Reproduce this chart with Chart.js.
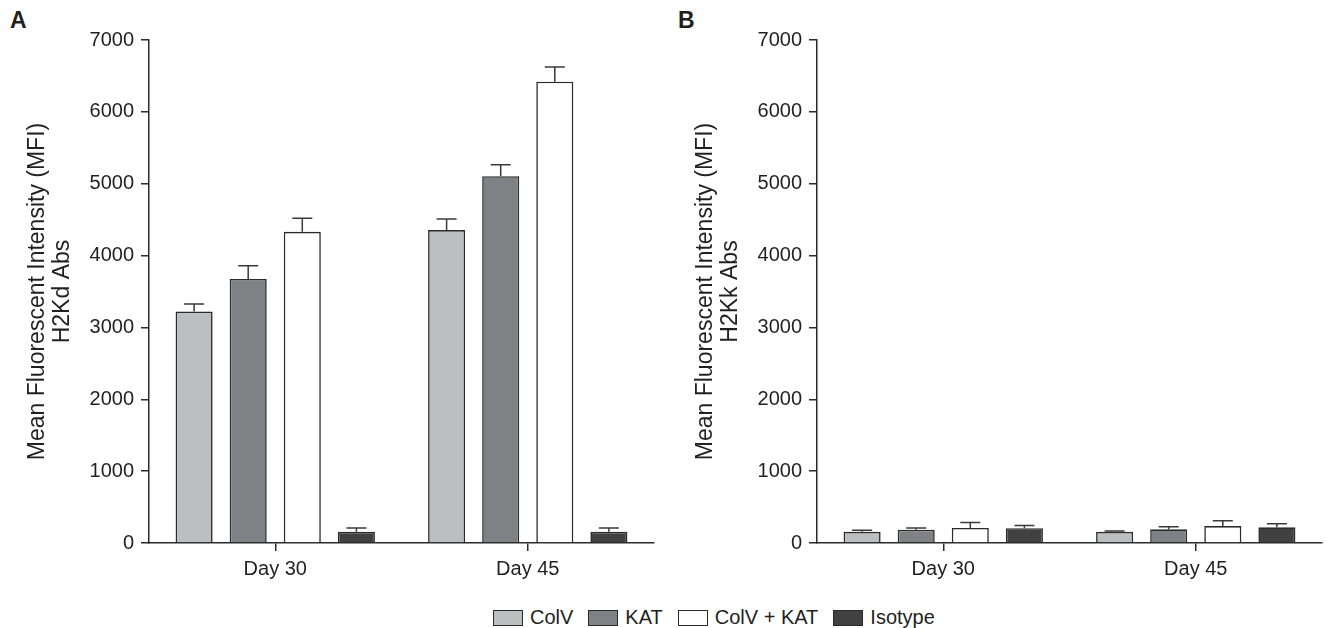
<!DOCTYPE html>
<html>
<head>
<meta charset="utf-8">
<script src="https://cdn.jsdelivr.net/npm/chart.js@4.4.1/dist/chart.umd.min.js"></script>
<style>
  html, body { margin: 0; padding: 0; background: #fff; width: 1326px; height: 628px; overflow: hidden; }
  body { position: relative; font-family: "Liberation Sans", Arial, sans-serif; color: #231f20; }
  canvas { position: absolute; top: 0; }
  #cA { left: 0; }
  #cB { left: 668px; }
  .panel { position: absolute; font-weight: bold; font-size: 23px; top: 7px; }
  #legend { position: absolute; top: 606px; left: 493px; display: flex; align-items: center; font-size: 20px; white-space: nowrap; }
  .item { display: flex; align-items: center; margin-right: 15px; }
  .sw { width: 30px; height: 16px; border: 1.5px solid #2b2b2b; margin-right: 7px; box-sizing: border-box; }
</style>
</head>
<body>
<div class="panel" style="left:10px">A</div>
<div class="panel" style="left:678px">B</div>
<canvas id="cA" width="663" height="600"></canvas>
<canvas id="cB" width="658" height="600"></canvas>
<div id="legend"></div>
<script>
// ---- data ----
const categories = ["Day 30", "Day 45"];
const seriesNames = ["ColV", "KAT", "ColV + KAT", "Isotype"];
const seriesColors = ["#bdbec0", "#808184", "#ffffff", "#414141"];

// Panel A: H2Kd Abs
const colvA = [3220, 4355];
const katA = [3675, 5105];
const colvKatA = [4330, 6420];
const isotypeA = [155, 155];
const colvAErr = [105, 155];
const katAErr = [185, 160];
const colvKatAErr = [190, 205];
const isotypeAErr = [55, 55];

// Panel B: H2Kk Abs
const colvB = [155, 155];
const katB = [185, 190];
const colvKatB = [210, 235];
const isotypeB = [205, 218];
const colvBErr = [22, 12];
const katBErr = [25, 37];
const colvKatBErr = [75, 75];
const isotypeBErr = [37, 50];

const yTicks = [0, 1000, 2000, 3000, 4000, 5000, 6000, 7000];
const titleA = ["Mean Fluorescent Intensity (MFI)", "H2Kd Abs"];
const titleB = ["Mean Fluorescent Intensity (MFI)", "H2Kk Abs"];

// ---- styling ----
const FAM = '"Liberation Sans", Arial, sans-serif';
const FONT = { family: FAM, size: 20 };
const TFONT = { family: FAM, size: 23, lineHeight: 1.05 };
const TXT = '#231f20';
const AX = '#2b2b2b';

const errorBars = {
  id: 'errorBars',
  afterDatasetsDraw(chart) {
    const ctx = chart.ctx;
    const ys = chart.scales.y;
    chart.data.datasets.forEach((ds, i) => {
      const meta = chart.getDatasetMeta(i);
      meta.data.forEach((bar, j) => {
        const v = ds.data[j], e = ds.errors[j];
        const yTop = ys.getPixelForValue(v);
        const yE = ys.getPixelForValue(v + e);
        ctx.save();
        ctx.strokeStyle = '#3a3a3a';
        ctx.lineWidth = 1.5;
        ctx.beginPath();
        ctx.moveTo(bar.x, yTop);
        ctx.lineTo(bar.x, yE);
        ctx.moveTo(bar.x - 10, yE);
        ctx.lineTo(bar.x + 10, yE);
        ctx.stroke();
        ctx.restore();
      });
    });
  }
};

function makeChart(id, series, errs, title, padRight) {
  const datasets = series.map((d, i) => ({
    label: seriesNames[i],
    data: d,
    errors: errs[i],
    backgroundColor: seriesColors[i],
    borderColor: AX,
    borderWidth: 1.6,
    borderSkipped: 'bottom',
    categoryPercentage: 0.857,
    barPercentage: 0.685
  }));
  return new Chart(document.getElementById(id), {
    type: 'bar',
    data: { labels: categories, datasets },
    plugins: [errorBars],
    options: {
      responsive: false,
      animation: false,
      layout: { padding: { top: 40, left: 0, right: padRight, bottom: 12 } },
      plugins: { legend: { display: false }, tooltip: { enabled: false } },
      scales: {
        x: {
          grid: { offset: false, drawOnChartArea: false, drawTicks: true, tickLength: 8, color: AX, lineWidth: 1.5 },
          border: { display: true, color: AX, width: 1.5 },
          ticks: { font: FONT, color: TXT, padding: 6 },
          afterFit(s) { s.height = 45; }
        },
        y: {
          min: 0, max: 7000,
          afterBuildTicks(s) { s.ticks = yTicks.map(v => ({ value: v })); },
          grid: { drawOnChartArea: false, drawTicks: true, tickLength: 8, color: AX, lineWidth: 1.5 },
          border: { display: true, color: AX, width: 1.5 },
          ticks: { font: FONT, color: TXT, padding: 7, callback: v => String(v) },
          title: { display: true, text: title, font: TFONT, color: TXT, padding: { top: 26, bottom: 0 } },
          afterFit(s) { s.width = 149; }
        }
      }
    }
  });
}

makeChart('cA', [colvA, katA, colvKatA, isotypeA], [colvAErr, katAErr, colvKatAErr, isotypeAErr], titleA, 9);
makeChart('cB', [colvB, katB, colvKatB, isotypeB], [colvBErr, katBErr, colvKatBErr, isotypeBErr], titleB, 4);

// legend
const lg = document.getElementById('legend');
seriesNames.forEach((n, i) => {
  const it = document.createElement('div');
  it.className = 'item';
  const sw = document.createElement('div');
  sw.className = 'sw';
  sw.style.background = seriesColors[i];
  const t = document.createElement('span');
  t.textContent = n;
  it.appendChild(sw); it.appendChild(t);
  lg.appendChild(it);
});
</script>
</body>
</html>
